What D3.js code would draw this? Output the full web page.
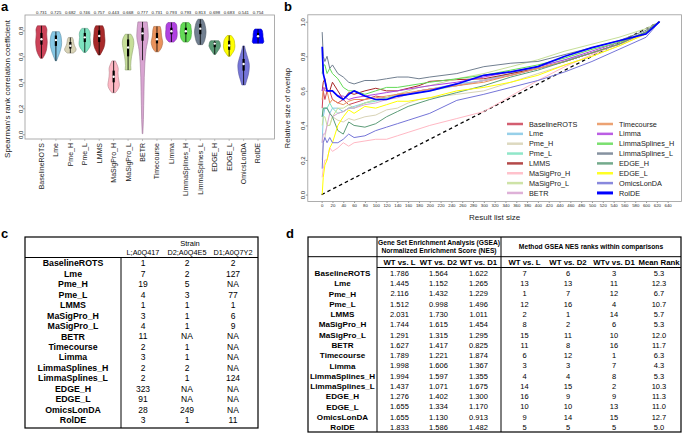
<!DOCTYPE html>
<html><head><meta charset="utf-8">
<script src="https://cdn.jsdelivr.net/npm/d3@7"></script>
<style>body{margin:0;background:#fff} svg{display:block}</style>
</head><body><svg id="c" width="683" height="433"></svg>
<script>
// ---------------- DATA ----------------
const methods = ["BaselineROTS","Lme","Pme_H","Pme_L","LMMS","MaSigPro_H","MaSigPro_L","BETR","Timecourse","Limma","LimmaSplines_H","LimmaSplines_L","EDGE_H","EDGE_L","OmicsLonDA","RolDE"];
const colors = ["#CC4258","#86C8E6","#D8D3B6","#7DE3C0","#A82A2A","#FFB8C4","#C6DF98","#D9A4D2","#E9925B","#B042E0","#63DB56","#717F90","#5C9C78","#FFFF00","#7575D8","#0000FF"];

// panel a: violin summaries (Spearman correlation)
const corrLabels = ["0.731","0.725","0.682","0.746","0.757","0.443","0.668","0.777","0.731","0.793","0.793","0.813","0.698","0.683","0.541","0.754"];
const corrMin    = [0.585,0.565,0.625,0.630,0.610,0.320,0.495,0.005,0.635,0.710,0.710,0.690,0.615,0.600,0.380,0.700];
const corrMax    = [0.835,0.790,0.745,0.815,0.835,0.565,0.770,0.865,0.830,0.860,0.860,0.885,0.720,0.760,0.680,0.810];
const corrQ1     = [0.690,0.680,0.660,0.710,0.710,0.400,0.600,0.720,0.700,0.770,0.770,0.770,0.670,0.650,0.490,0.740];
const corrMedian = [0.731,0.725,0.682,0.746,0.757,0.443,0.668,0.777,0.731,0.793,0.793,0.813,0.698,0.683,0.541,0.754];
const corrQ3     = [0.780,0.760,0.710,0.780,0.800,0.490,0.730,0.820,0.780,0.820,0.820,0.850,0.710,0.720,0.580,0.780];
const corrShape = [
  [0.2,0.6,0.85,0.95,1,0.95,0.9,0.95,0.7],
  [0.1,0.35,0.6,0.8,0.95,1,0.95,0.85,0.6],
  [0.5,0.9,1,0.85,0.7,0.6,0.55,0.5,0.35],
  [0.2,0.6,0.9,1,0.95,0.9,0.95,0.85,0.5],
  [0.15,0.5,0.8,0.95,1,0.95,0.9,0.85,0.6],
  [0.3,0.8,1,0.9,0.8,0.75,0.8,0.6,0.3],
  [0.5,0.45,0.5,0.6,0.75,0.9,1,0.9,0.5],
  [0.05,0.15,0.2,0.25,0.3,0.4,0.6,1,0.8],
  [0.3,0.7,0.9,1,0.9,0.8,0.75,0.7,0.55],
  [0.4,0.8,0.95,1,1,0.95,0.95,0.9,0.6],
  [0.4,0.75,0.9,0.95,1,0.95,0.9,0.85,0.5],
  [0.4,0.7,0.85,0.95,1,0.95,0.85,0.7,0.4],
  [0.15,0.35,0.55,0.75,0.9,1,0.95,0.9,0.7],
  [0.2,0.5,0.8,0.95,1,0.95,0.9,0.7,0.35],
  [0.3,0.55,0.8,0.95,1,0.85,0.6,0.35,0.15],
  [0.85,1,0.95,0.9,0.85,0.85,0.8,0.75,0.55]
];
const corrTicks = [0,0.2,0.4,0.6,0.8];

// panel b: relative overlap vs result list size
const listSizes = [1,3,6,10,15,20,30,40,50,60,80,100,120,140,160,180,200,250,300,350,400,450,500,550,600,625];
const overlapValues = [
  [0.5,0.6,0.55,0.6,0.6,0.55,0.53,0.55,0.52,0.53,0.55,0.57,0.56,0.58,0.58,0.6,0.61,0.63,0.66,0.69,0.73,0.77,0.82,0.87,0.94,1],
  [0.3,0.45,0.5,0.5,0.47,0.5,0.5,0.48,0.5,0.51,0.53,0.55,0.56,0.57,0.58,0.6,0.61,0.64,0.66,0.7,0.74,0.78,0.82,0.87,0.94,1],
  [0.2,0.3,0.33,0.4,0.4,0.45,0.43,0.42,0.44,0.43,0.45,0.46,0.49,0.5,0.53,0.55,0.56,0.58,0.6,0.65,0.7,0.75,0.8,0.86,0.93,1],
  [0.45,0.5,0.5,0.5,0.53,0.5,0.47,0.48,0.5,0.5,0.53,0.54,0.56,0.57,0.58,0.59,0.6,0.63,0.66,0.7,0.73,0.77,0.82,0.87,0.94,1],
  [0.6,0.65,0.67,0.6,0.6,0.65,0.6,0.55,0.59,0.58,0.6,0.615,0.6,0.6,0.615,0.63,0.655,0.665,0.67,0.7,0.73,0.77,0.82,0.87,0.94,1],
  [0.1,0.15,0.2,0.2,0.27,0.25,0.27,0.3,0.28,0.3,0.31,0.32,0.32,0.34,0.36,0.38,0.4,0.44,0.48,0.57,0.66,0.74,0.81,0.87,0.93,1],
  [0.4,0.45,0.45,0.4,0.4,0.45,0.5,0.5,0.52,0.5,0.53,0.55,0.56,0.58,0.6,0.62,0.63,0.67,0.7,0.74,0.78,0.83,0.87,0.91,0.96,1],
  [0.3,0.35,0.35,0.4,0.47,0.45,0.47,0.48,0.5,0.5,0.52,0.53,0.55,0.56,0.58,0.6,0.61,0.63,0.66,0.69,0.73,0.77,0.82,0.87,0.94,1],
  [0.55,0.6,0.62,0.6,0.53,0.55,0.53,0.52,0.54,0.55,0.55,0.56,0.57,0.58,0.59,0.6,0.61,0.63,0.65,0.69,0.73,0.77,0.82,0.87,0.94,1],
  [0.6,0.62,0.6,0.6,0.6,0.6,0.57,0.57,0.55,0.56,0.57,0.58,0.59,0.6,0.61,0.62,0.63,0.65,0.68,0.71,0.74,0.78,0.83,0.88,0.94,1],
  [0.7,0.75,0.75,0.7,0.73,0.7,0.67,0.62,0.6,0.6,0.58,0.6,0.62,0.62,0.63,0.64,0.65,0.67,0.69,0.72,0.75,0.79,0.84,0.88,0.94,1],
  [0.94,0.8,0.77,0.8,0.73,0.75,0.7,0.68,0.65,0.64,0.66,0.66,0.67,0.68,0.68,0.67,0.68,0.7,0.74,0.76,0.77,0.81,0.85,0.89,0.95,1],
  [0.45,0.5,0.5,0.5,0.47,0.45,0.37,0.35,0.42,0.4,0.39,0.41,0.45,0.48,0.51,0.53,0.55,0.59,0.63,0.68,0.72,0.77,0.82,0.87,0.94,1],
  [0,0.1,0.17,0.2,0.27,0.3,0.4,0.45,0.49,0.47,0.51,0.5,0.52,0.54,0.54,0.55,0.56,0.6,0.62,0.65,0.69,0.75,0.8,0.86,0.93,1],
  [0.15,0.3,0.33,0.3,0.33,0.3,0.3,0.32,0.35,0.33,0.34,0.37,0.39,0.41,0.43,0.45,0.47,0.545,0.58,0.62,0.66,0.71,0.77,0.84,0.91,1],
  [0.855,0.7,0.66,0.6,0.6,0.6,0.57,0.55,0.58,0.6,0.57,0.55,0.55,0.57,0.58,0.59,0.6,0.64,0.69,0.71,0.74,0.8,0.85,0.89,0.93,1]
];
const randomLine = [[0,0],[625,1]];
const overlapXTicks = d3.range(0, 641, 20);
const overlapYTicks = [0,0.2,0.4,0.6,0.8,1.0];

// panel c: ranks per strain
const strainCols = ["L;A0Q417","D2;A0Q4E5","D1;A0Q7Y2"];
const strainRanks = [
  [1,2,2],[7,2,127],[19,5,null],[4,3,77],[1,1,1],[3,1,6],[4,1,9],[11,null,null],
  [2,1,null],[3,1,null],[2,2,null],[2,1,124],[323,null,null],[91,null,null],[28,249,null],[3,1,11]
];

// panel d: GSEA NES and ranks
const nesCols = ["WT vs. L","WT vs. D2","WT vs. D1"];
const nesValues = [
  [1.786,1.564,1.622],[1.445,1.152,1.265],[2.116,1.432,1.229],[1.512,0.998,1.496],
  [2.031,1.730,1.011],[1.744,1.615,1.454],[1.291,1.315,1.295],[1.627,1.417,0.825],
  [1.789,1.221,1.874],[1.998,1.606,1.367],[1.994,1.597,1.355],[1.437,1.071,1.675],
  [1.276,1.402,1.300],[1.655,1.334,1.170],[1.655,1.130,0.913],[1.833,1.586,1.482]
];
const rankCols = ["WT vs. L","WT vs. D2","WTv vs. D1","Mean Rank"];
const rankValues = [
  [7,6,3,5.3],[13,13,11,12.3],[1,7,12,6.7],[12,16,4,10.7],[2,1,14,5.7],[8,2,6,5.3],
  [15,11,10,12.0],[11,8,16,11.7],[6,12,1,6.3],[3,3,7,4.3],[4,4,8,5.3],[14,15,2,10.3],
  [16,9,9,11.3],[10,10,13,11.0],[9,14,15,12.7],[5,5,5,5.0]
];

// ---------------- DRAW ----------------
const F = '"Liberation Sans", Arial, Helvetica, sans-serif';
const svg = d3.select("#c").attr("font-family", F);
const boxCol = "#9a9a9a";

function panelLabel(t, x, y) {
  svg.append("text").attr("x", x).attr("y", y).attr("font-size", 13).attr("font-weight", "bold").text(t);
}
panelLabel("a", 1, 11); panelLabel("b", 284, 11); panelLabel("c", 1, 238); panelLabel("d", 286, 238);

// ----- panel a -----
const xa = d3.scaleLinear().domain([-0.14, 17.14]).range([25, 274.5]);
const ya = d3.scaleLinear().domain([-0.036, 0.918]).range([139, 15]);
const ga = svg.append("g");
ga.append("rect").attr("x", xa.range()[0]).attr("y", ya.range()[1])
  .attr("width", xa.range()[1] - xa.range()[0]).attr("height", ya.range()[0] - ya.range()[1])
  .attr("fill", "none").attr("stroke", boxCol).attr("stroke-width", 0.8);

const yAxA = ga.append("g").attr("transform", `translate(${xa.range()[0]},0)`)
  .call(d3.axisLeft(ya).tickValues(corrTicks).tickFormat(d3.format(".1f")).tickSize(2));
yAxA.select(".domain").remove();
yAxA.selectAll("line").attr("stroke", boxCol);
yAxA.selectAll("text").attr("x", 0).attr("dy", 0).attr("transform", "translate(-2.5,0) rotate(-90)")
  .attr("text-anchor", "middle").attr("font-size", 6).attr("font-family", F).attr("fill", "#222");

ga.append("text").attr("transform", "translate(10,89) rotate(-90)").attr("text-anchor", "middle")
  .attr("font-size", 8).attr("fill", "#222").text("Spearman's rank correlation coefficient");

const areaV = d3.area().curve(d3.curveMonotoneY)
  .y(d => ya(d.v)).x0(d => xa(d.c - d.w)).x1(d => xa(d.c + d.w));

methods.forEach((m, i) => {
  const c = i + 1;
  const sh = corrShape[i];
  const pts = sh.map((w, k) => ({ c, w: w * 0.4, v: corrMin[i] + k * (corrMax[i] - corrMin[i]) / (sh.length - 1) }));
  ga.append("path").attr("d", areaV(pts)).attr("fill", colors[i])
    .attr("stroke", d3.color(colors[i]).darker(0.9)).attr("stroke-width", 0.6);
  const iqr = corrQ3[i] - corrQ1[i];
  const wLo = Math.max(corrMin[i], corrQ1[i] - 1.5 * iqr), wHi = Math.min(corrMax[i], corrQ3[i] + 1.5 * iqr);
  ga.append("line").attr("x1", xa(c)).attr("x2", xa(c)).attr("y1", ya(wLo)).attr("y2", ya(wHi))
    .attr("stroke", "#000").attr("stroke-width", 0.8);
  ga.append("rect").attr("x", xa(c) - 1.1).attr("width", 2.2).attr("y", ya(corrQ3[i]))
    .attr("height", ya(corrQ1[i]) - ya(corrQ3[i])).attr("fill", "#000");
  ga.append("circle").attr("cx", xa(c)).attr("cy", ya(corrMedian[i])).attr("r", 1.2).attr("fill", "#fff");
  ga.append("text").attr("x", xa(c)).attr("y", 14).attr("text-anchor", "middle").attr("font-size", 4.3)
    .attr("fill", "#222").text(corrLabels[i]);
  ga.append("line").attr("x1", xa(c)).attr("x2", xa(c)).attr("y1", ya.range()[0]).attr("y2", ya.range()[0] + 2)
    .attr("stroke", boxCol).attr("stroke-width", 0.6);
  ga.append("text").attr("transform", `translate(${xa(c)},143) rotate(-90)`).attr("text-anchor", "end")
    .attr("dy", "0.35em").attr("font-size", 7).attr("fill", "#222").text(m);
});

// ----- panel b -----
const xb = d3.scaleLinear().domain([-25.6, 665.6]).range([307.8, 681.5]);
const yb = d3.scaleLinear().domain([-0.04, 1.04]).range([201.5, 14.8]);
const gb = svg.append("g");
gb.append("rect").attr("x", xb.range()[0]).attr("y", yb.range()[1])
  .attr("width", xb.range()[1] - xb.range()[0]).attr("height", yb.range()[0] - yb.range()[1])
  .attr("fill", "none").attr("stroke", boxCol).attr("stroke-width", 0.8);

const yAxB = gb.append("g").attr("transform", `translate(${xb.range()[0]},0)`)
  .call(d3.axisLeft(yb).tickValues(overlapYTicks).tickFormat(d3.format(".1f")).tickSize(2));
yAxB.select(".domain").remove();
yAxB.selectAll("line").attr("stroke", boxCol);
yAxB.selectAll("text").attr("x", 0).attr("dy", 0).attr("transform", "translate(-3,0) rotate(-90)")
  .attr("text-anchor", "middle").attr("font-size", 6).attr("font-family", F).attr("fill", "#222");

const xAxB = gb.append("g").attr("transform", `translate(0,${yb.range()[0]})`)
  .call(d3.axisBottom(xb).tickValues(overlapXTicks).tickFormat(d3.format("d")).tickSize(1.5).tickPadding(1));
xAxB.select(".domain").remove();
xAxB.selectAll("line").attr("stroke", boxCol);
xAxB.selectAll("text").attr("font-size", 4.3).attr("font-family", F).attr("fill", "#222").attr("dy", "0.75em");

gb.append("text").attr("x", (xb.range()[0] + xb.range()[1]) / 2).attr("y", 220).attr("text-anchor", "middle")
  .attr("font-size", 8).attr("fill", "#222").text("Result list size");
gb.append("text").attr("transform", `translate(290,${(yb.range()[0] + yb.range()[1]) / 2}) rotate(-90)`)
  .attr("text-anchor", "middle").attr("font-size", 7.8).attr("fill", "#222").text("Relative size of overlap");

const lineB = d3.line().x(d => xb(d[0])).y(d => yb(d[1]));
gb.append("path").attr("d", lineB(randomLine)).attr("fill", "none").attr("stroke", "#000")
  .attr("stroke-width", 1.3).attr("stroke-dasharray", "3.5,3");
methods.forEach((m, i) => {
  const pts = listSizes.map((s, k) => [s, overlapValues[i][k]]);
  gb.append("path").attr("d", lineB(pts)).attr("fill", "none").attr("stroke", colors[i])
    .attr("stroke-width", m === "RolDE" ? 1.7 : 1).attr("stroke-linejoin", "round");
});
// legend
methods.forEach((m, i) => {
  const col = Math.floor(i / 8), row = i % 8;
  const lx = col === 0 ? 507 : 597, ly = 124 + row * 9.85;
  gb.append("line").attr("x1", lx).attr("x2", lx + 16).attr("y1", ly).attr("y2", ly)
    .attr("stroke", colors[i]).attr("stroke-width", m === "RolDE" ? 3 : 2.5).attr("opacity", m === "RolDE" ? 1 : 0.85);
  gb.append("text").attr("x", lx + 22).attr("y", ly).attr("dy", "0.35em").attr("font-size", 7.3)
    .attr("fill", "#222").text(m);
});

// ----- panel c -----
const gc = svg.append("g");
const cL = 25, cR = 258, cT = 237, cB = 428, cSep = 121, cHead = 257.5, cRow0 = 263.3, cStep = 10.45;
const cColX = [143, 187, 233];
gc.append("rect").attr("x", cL).attr("y", cT).attr("width", cR - cL).attr("height", cB - cT)
  .attr("fill", "none").attr("stroke", "#000").attr("stroke-width", 1.2);
gc.append("line").attr("x1", cL).attr("x2", cR).attr("y1", cHead).attr("y2", cHead).attr("stroke", "#000").attr("stroke-width", 1);
gc.append("line").attr("x1", cSep).attr("x2", cSep).attr("y1", cHead).attr("y2", cB).attr("stroke", "#000").attr("stroke-width", 1);
gc.append("text").attr("x", 190).attr("y", 243.5).attr("dy", "0.35em").attr("text-anchor", "middle")
  .attr("font-size", 7.5).text("Strain");
strainCols.forEach((h, j) => gc.append("text").attr("x", cColX[j]).attr("y", 252.5).attr("dy", "0.35em")
  .attr("text-anchor", "middle").attr("font-size", 7.3).text(h));
methods.forEach((m, i) => {
  const y = cRow0 + i * cStep;
  gc.append("text").attr("x", (cL + cSep) / 2).attr("y", y).attr("dy", "0.35em").attr("text-anchor", "middle")
    .attr("font-size", 8.8).attr("font-weight", "bold").text(m);
  strainRanks[i].forEach((v, j) => gc.append("text").attr("x", cColX[j]).attr("y", y).attr("dy", "0.35em")
    .attr("text-anchor", "middle").attr("font-size", 8.5).text(v === null ? "NA" : v));
});

// ----- panel d -----
const gd = svg.append("g");
const dL = 308, dR = 681, dT = 237, dB = 432, dSep1 = 377, dSep2 = 501, dH1 = 256.7, dH2 = 267.5, dRow0 = 273.3, dStep = 10.27;
const nesX = [399.5, 438.5, 478.5], rankX = [524.5, 568, 614, 659];
gd.append("rect").attr("x", dL).attr("y", dT).attr("width", dR - dL).attr("height", dB - dT)
  .attr("fill", "none").attr("stroke", "#000").attr("stroke-width", 1.2);
gd.append("line").attr("x1", dL).attr("x2", dR).attr("y1", dH1).attr("y2", dH1).attr("stroke", "#000").attr("stroke-width", 1);
gd.append("line").attr("x1", dSep1).attr("x2", dR).attr("y1", dH2).attr("y2", dH2).attr("stroke", "#000").attr("stroke-width", 1);
[dSep1, dSep2].forEach(x => gd.append("line").attr("x1", x).attr("x2", x).attr("y1", dT).attr("y2", dB)
  .attr("stroke", "#000").attr("stroke-width", 1));
gd.append("text").attr("x", (dSep1 + dSep2) / 2).attr("y", 243).attr("dy", "0.35em").attr("text-anchor", "middle")
  .attr("font-size", 6.7).attr("font-weight", "bold").text("Gene Set Enrichment Analysis (GSEA)");
gd.append("text").attr("x", (dSep1 + dSep2) / 2).attr("y", 250.5).attr("dy", "0.35em").attr("text-anchor", "middle")
  .attr("font-size", 6.7).attr("font-weight", "bold").text("Normalized Enrichment Score (NES)");
gd.append("text").attr("x", (dSep2 + dR) / 2).attr("y", 247).attr("dy", "0.35em").attr("text-anchor", "middle")
  .attr("font-size", 6.7).attr("font-weight", "bold").text("Method GSEA NES ranks within comparisons");
nesCols.forEach((h, j) => gd.append("text").attr("x", nesX[j]).attr("y", 262.3).attr("dy", "0.35em")
  .attr("text-anchor", "middle").attr("font-size", 7.8).attr("font-weight", "bold").text(h));
rankCols.forEach((h, j) => gd.append("text").attr("x", rankX[j]).attr("y", 262.3).attr("dy", "0.35em")
  .attr("text-anchor", "middle").attr("font-size", 7.8).attr("font-weight", "bold").text(h));
const f3 = d3.format(".3f"), f1 = d3.format(".1f");
methods.forEach((m, i) => {
  const y = dRow0 + i * dStep;
  gd.append("text").attr("x", (dL + dSep1) / 2).attr("y", y).attr("dy", "0.35em").attr("text-anchor", "middle")
    .attr("font-size", 8.1).attr("font-weight", "bold").text(m);
  nesValues[i].forEach((v, j) => gd.append("text").attr("x", nesX[j]).attr("y", y).attr("dy", "0.35em")
    .attr("text-anchor", "middle").attr("font-size", 7.5).text(f3(v)));
  rankValues[i].forEach((v, j) => gd.append("text").attr("x", rankX[j]).attr("y", y).attr("dy", "0.35em")
    .attr("text-anchor", "middle").attr("font-size", 7.5).text(j === 3 ? f1(v) : v));
});
</script></body></html>
